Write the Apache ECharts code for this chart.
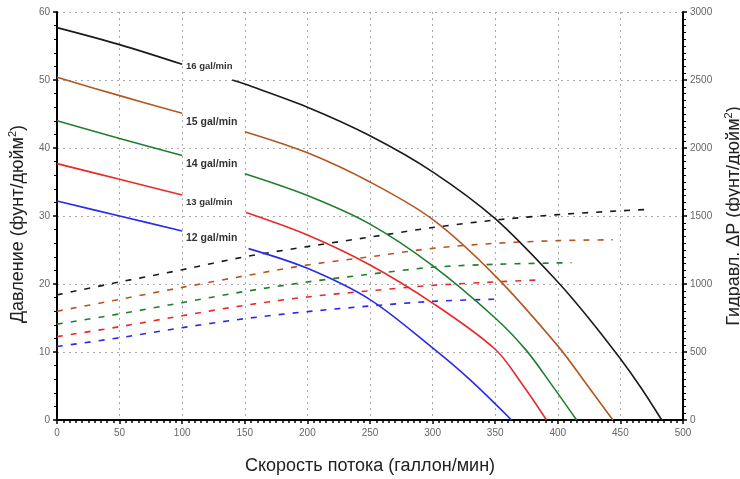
<!DOCTYPE html>
<html><head><meta charset="utf-8">
<script src="https://cdn.jsdelivr.net/npm/echarts@6/dist/echarts.min.js"></script>
<style>html,body{margin:0;padding:0;background:#fff}#c{width:740px;height:479px}</style>
</head><body><div id="c"></div>
<script>
// Pump curves (flow gal/min, pressure psi); null marks the gap where the label sits
var pump16 = [[0,57.7],[50,55.2],[100,52.3],[120,null],[140,50.0],[150,49.4],[200,46.0],[250,41.8],[300,36.5],[350,29.6],[400,20.3],[425,14.9],[450,9.0],[467,4.6],[483,0]];
var pump15 = [[0,50.4],[50,47.7],[100,45.1],[125,null],[150,42.4],[200,39.3],[250,35.0],[300,29.5],[350,21.2],[400,10.9],[424,5.0],[444,0]];
var pump14 = [[0,44.0],[50,41.4],[100,38.9],[125,null],[150,36.2],[200,33.0],[250,28.8],[300,22.7],[350,15.0],[375,10.2],[395,5.2],[415,0]];
var pump13 = [[0,37.7],[50,35.4],[100,33.1],[125,null],[151,30.5],[200,27.2],[250,22.8],[300,17.2],[350,10.4],[371,5.4],[391,0]];
var pump12 = [[0,32.2],[50,30.0],[100,27.8],[125,null],[153,25.2],[200,22.3],[250,17.7],[300,10.6],[330,5.9],[363,0]];
// Hydraulic dP curves (right axis)
var dp16 = [[0,920],[50,1015],[100,1105],[150,1200],[200,1275],[250,1345],[300,1415],[350,1470],[400,1510],[450,1538],[475,1550]];
var dp15 = [[0,800],[50,887],[100,975],[150,1060],[200,1140],[250,1200],[300,1262],[350,1299],[400,1319],[444,1325]];
var dp14 = [[0,705],[50,780],[100,863],[150,945],[200,1015],[250,1072],[300,1123],[350,1145],[400,1155],[411,1156]];
var dp13 = [[0,613],[50,686],[100,767],[150,843],[200,905],[250,950],[300,990],[350,1015],[384,1029]];
var dp12 = [[0,540],[50,605],[100,679],[150,745],[200,797],[250,838],[300,872],[354,889]];
var labels = ['16 gal/min','15 gal/min','14 gal/min','13 gal/min','12 gal/min'];
var colors = ['#1a1a1a','#b4561e','#1f7f2f','#e8292a','#2b2be6'];

var pumps = [pump16,pump15,pump14,pump13,pump12];
var dps = [dp16,dp15,dp14,dp13,dp12];
var series = [];
dps.forEach(function(d,i){
  series.push({type:'line',yAxisIndex:1,data:d,showSymbol:false,smooth:0.33,z:2,
    lineStyle:{color:colors[i],width:1.6,type:[6,8]}});
});
pumps.forEach(function(d,i){
  series.push({type:'line',yAxisIndex:0,data:d,showSymbol:false,smooth:0.33,connectNulls:false,z:3,
    lineStyle:{color:colors[i],width:1.6}});
});
var labelY = [67,123,165,203,239];
var labelSize = [9.5,10.5,10.5,9.5,10.5];
var graphics = labels.map(function(t,i){
  return {type:'text',left:186,top:labelY[i]-6,style:{text:t,font:'bold '+labelSize[i]+'px "Liberation Sans", Arial',fill:'#333'}};
});
var gridLine = {show:true,lineStyle:{color:'#aaa',type:[2,4],width:1}};
var lbl = {color:'#666',fontSize:10,fontFamily:'Liberation Sans',formatter:function(v){return String(v);}};
var nameRich = {m:{fontSize:18,color:'#222',fontFamily:'Liberation Sans',lineHeight:22},s:{fontSize:11,color:'#222',verticalAlign:'top',lineHeight:22,fontFamily:'Liberation Sans'}};
var chart = echarts.init(document.getElementById('c'));
chart.setOption({
  animation:false,
  grid:{left:57,right:57,top:12,bottom:59,containLabel:false,outerBoundsMode:'none'},
  xAxis:{type:'value',min:0,max:500,interval:50,
    name:'Скорость потока (галлон/мин)',nameLocation:'middle',nameGap:37,
    nameTextStyle:{fontSize:18,color:'#222',fontFamily:'Liberation Sans'},
    axisLine:{lineStyle:{color:'#000',width:2}},
    axisTick:{length:4,lineStyle:{color:'#000',width:1.5}},
    minorTick:{show:true,splitNumber:10,length:3,lineStyle:{color:'#000',width:1.5}},
    axisLabel:Object.assign({margin:8},lbl),
    splitLine:gridLine},
  yAxis:[
    {type:'value',min:0,max:60,interval:10,position:'left',
     name:'{m|Давление (фунт/дюйм}{s|2}{m|)}',nameLocation:'middle',nameGap:28,
     nameTextStyle:{padding:[0,16,0,0],rich:nameRich},
     axisLine:{show:true,lineStyle:{color:'#000',width:2}},
     axisTick:{length:4,lineStyle:{color:'#000',width:1.5}},
     minorTick:{show:true,splitNumber:5,length:3,lineStyle:{color:'#000',width:1}},
     axisLabel:Object.assign({margin:7},lbl),
     splitLine:gridLine},
    {type:'value',min:0,max:3000,interval:500,position:'right',
     name:'{m|Гидравл. ΔP (фунт/дюйм}{s|2}{m|)}',nameLocation:'middle',nameGap:29,
     nameTextStyle:{rich:nameRich},
     axisLine:{show:true,lineStyle:{color:'#000',width:2}},
     axisTick:{length:4,lineStyle:{color:'#000',width:1.5}},
     minorTick:{show:true,splitNumber:10,length:3,lineStyle:{color:'#000',width:1}},
     axisLabel:Object.assign({margin:7},lbl),
     splitLine:{show:false}}
  ],
  graphic:graphics,
  series:series
});
</script></body></html>
